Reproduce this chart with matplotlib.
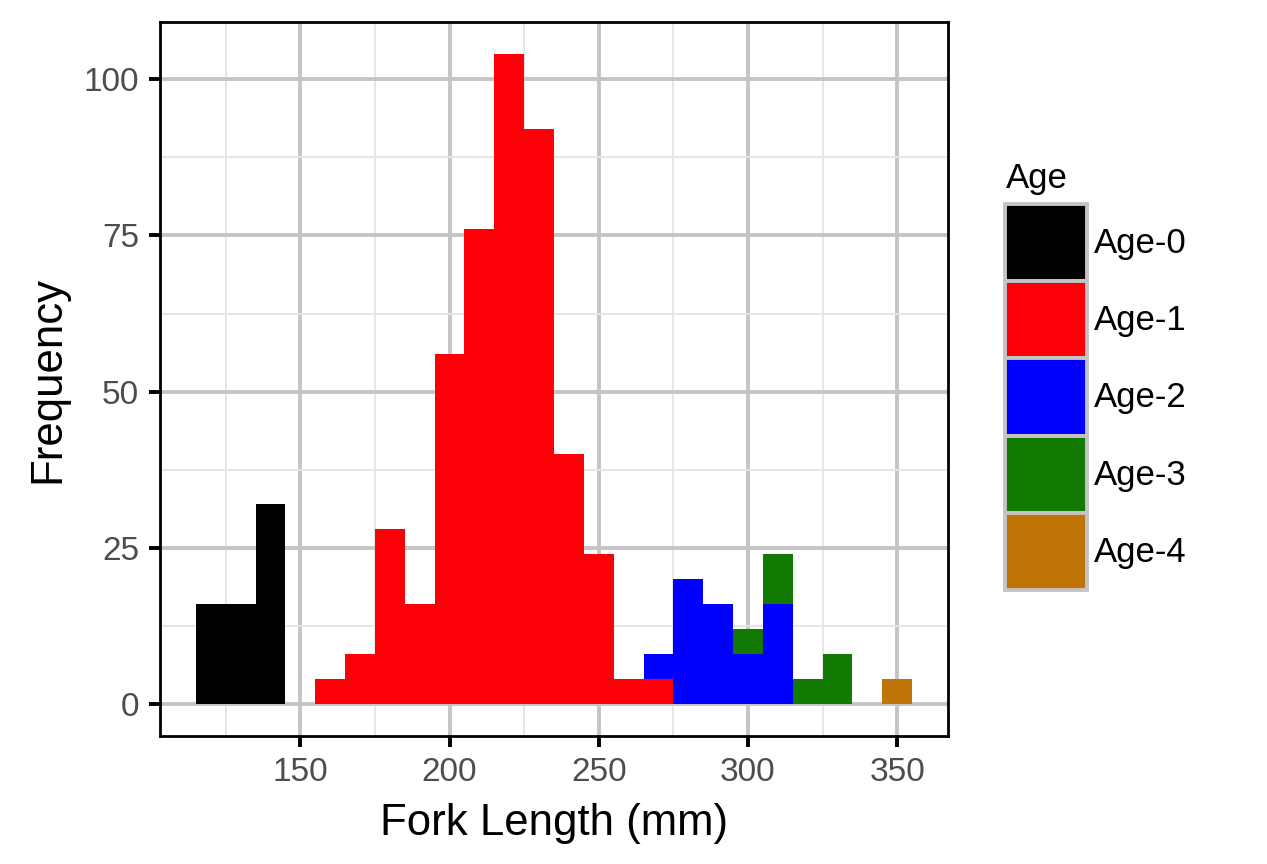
import numpy as np
import matplotlib.pyplot as plt
from matplotlib.patches import Patch

plt.rcParams['font.family'] = ['Liberation Sans', 'DejaVu Sans']

# bin centres (mm), width 10
centres = [120, 130, 140, 150, 160, 170, 180, 190, 200, 210, 220, 230,
           240, 250, 260, 270, 280, 290, 300, 310, 320, 330, 340, 350]
age0 = [16, 16, 32, 0, 0, 0, 0, 0, 0, 0, 0, 0, 0, 0, 0, 0, 0, 0, 0, 0, 0, 0, 0, 0]
age1 = [0, 0, 0, 0, 4, 8, 28, 16, 56, 76, 104, 92, 40, 24, 4, 4, 0, 0, 0, 0, 0, 0, 0, 0]
age2 = [0, 0, 0, 0, 0, 0, 0, 0, 0, 0, 0, 0, 0, 0, 0, 4, 20, 16, 8, 16, 0, 0, 0, 0]
age3 = [0, 0, 0, 0, 0, 0, 0, 0, 0, 0, 0, 0, 0, 0, 0, 0, 0, 0, 4, 8, 4, 8, 0, 0]
age4 = [0, 0, 0, 0, 0, 0, 0, 0, 0, 0, 0, 0, 0, 0, 0, 0, 0, 0, 0, 0, 0, 0, 0, 4]
labels = ["Age-0", "Age-1", "Age-2", "Age-3", "Age-4"]
colors = ["#000000", "#FC0007", "#0000FF", "#127A03", "#C07306"]

xticks = [150, 200, 250, 300, 350]
yticks = [0, 25, 50, 75, 100]

fig = plt.figure(figsize=(12.67, 8.64), dpi=100)
ax = fig.add_axes([0.1263, 0.1481, 0.6219, 0.8264])

bottom = np.zeros(len(centres))
for vals, col in zip([age0, age1, age2, age3, age4], colors):
    ax.bar(centres, vals, width=10, bottom=bottom, color=col, linewidth=0, zorder=3)
    bottom += np.array(vals)

ax.set_xlim(103, 367)
ax.set_ylim(-5.2, 109.2)
ax.set_xticks(xticks)
ax.set_yticks(yticks)
ax.set_xticks([125, 175, 225, 275, 325], minor=True)
ax.set_yticks([12.5, 37.5, 62.5, 87.5], minor=True)
ax.grid(which='major', color='#C4C4C4', linewidth=2.8, zorder=1)
ax.grid(which='minor', color='#E6E6E6', linewidth=1.4, zorder=1)
ax.set_axisbelow(True)
ax.tick_params(which='major', length=8, width=2.8, color='black',
               labelsize=24, labelcolor='#4D4D4D', pad=7)
ax.tick_params(which='minor', length=0)
for s in ax.spines.values():
    s.set_linewidth(2.0)
    s.set_color('black')

ax.set_xlabel("Fork Length (mm)", fontsize=31.5, color='black', labelpad=11)
ax.set_ylabel("Frequency", fontsize=31.5, color='black', labelpad=11)

handles = [Patch(facecolor=c, edgecolor='#C4C4C4', linewidth=2.8) for c in colors]
leg = fig.legend(handles, labels, title="Age", loc='upper left',
                 bbox_to_anchor=(0.7936, 0.812), frameon=False,
                 fontsize=25, title_fontsize=25, handlelength=2.35,
                 handleheight=3.05, labelspacing=0, handletextpad=0.2,
                 borderaxespad=0, borderpad=0)
leg._legend_box.align = "left"
leg._legend_box.sep = 6

fig.savefig("out.png", dpi=100)
